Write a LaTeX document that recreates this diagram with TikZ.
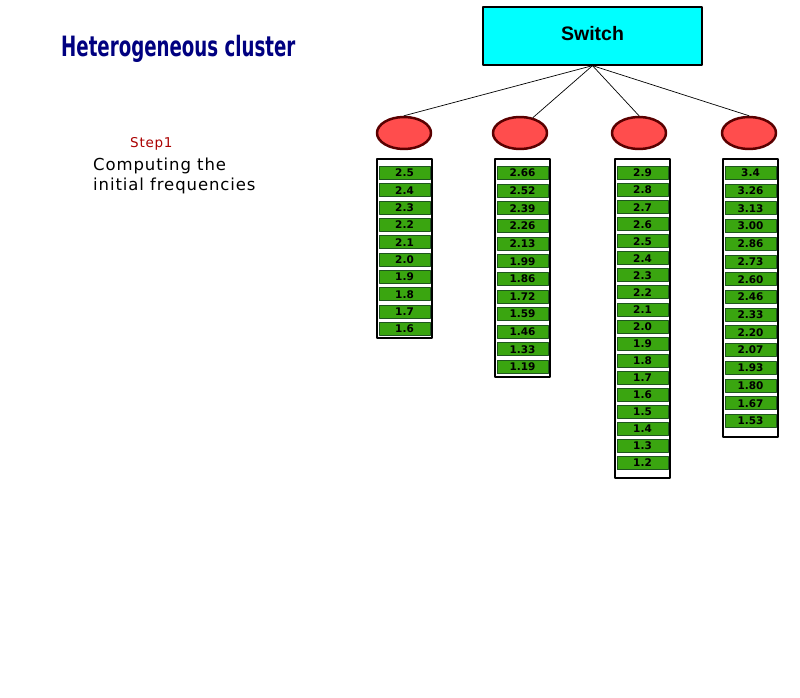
\documentclass[tikz,border=0pt]{standalone}
\usepackage{fontspec}
\setmainfont{DejaVu Sans}
\newfontfamily\titlefont[FakeStretch=0.65]{DejaVu Sans}
\newfontfamily\labelfont[LetterSpace=5.5]{DejaVu Sans}
\newfontfamily\switchfont{Liberation Sans}
\usetikzlibrary{shapes.geometric}
\definecolor{titleblue}{RGB}{0,0,128}
\definecolor{stepred}{RGB}{170,0,0}
\definecolor{switchcyan}{RGB}{0,255,255}
\definecolor{hostred}{RGB}{255,77,77}
\definecolor{hostborder}{RGB}{90,0,0}
\definecolor{freqgreen}{RGB}{58,165,16}
\definecolor{freqborder}{RGB}{30,85,30}
\tikzset{
  host/.style={ellipse, draw=hostborder, line width=2.5, fill=hostred, minimum width=54, minimum height=32},
  freq/.style={draw=freqborder, line width=0.9, fill=freqgreen, minimum width=51, minimum height=13, inner sep=0, font=\bfseries\fontsize{10.5}{10.5}\selectfont},
  column/.style={draw, line width=2.2, fill=white}
}
\begin{document}
\begin{tikzpicture}[x=1pt,y=-1pt, line join=round, line cap=round]
	\useasboundingbox (0,0) rectangle (800,698);
	\node[anchor=base west, inner sep=0, text=titleblue, font=\titlefont\bfseries\fontsize{28}{28}\selectfont] (title) at (61,57) {Heterogeneous cluster};
	\node[anchor=base west, inner sep=0, text=stepred, font=\labelfont\fontsize{13.5}{16}\selectfont] (step) at (130,147) {Step1};
	\node[anchor=base west, inner sep=0, align=left, font=\labelfont\fontsize{16.5}{20}\selectfont] (task) at (93,190) {Computing the\\initial frequencies};
	\node[draw, line width=1.3, fill=switchcyan, minimum width=219, minimum height=58, text depth=6, font=\switchfont\bfseries\fontsize{19.5}{20}\selectfont] (switch) at (592.5,36) {Switch};
	\node[host] (h1) at (404,133) {};
	\node[host] (h2) at (520,133) {};
	\node[host] (h3) at (639,133) {};
	\node[host] (h4) at (749,133) {};
	\draw[line width=0.7] (switch.south) -- (h1.north);
	\draw[line width=0.7] (switch.south) -- (h2.50);
	\draw[line width=0.7] (switch.south) -- (h3.north);
	\draw[line width=0.7] (switch.south) -- (h4.north);
	\foreach \c/\cx/\cb/\dy/\vals in {
		1/404.5/338/17.33/{2.5,2.4,2.3,2.2,2.1,2.0,1.9,1.8,1.7,1.6},
		2/522.5/377/17.64/{2.66,2.52,2.39,2.26,2.13,1.99,1.86,1.72,1.59,1.46,1.33,1.19},
		3/642.5/478/17.06/{2.9,2.8,2.7,2.6,2.5,2.4,2.3,2.2,2.1,2.0,1.9,1.8,1.7,1.6,1.5,1.4,1.3,1.2},
		4/750.5/437/17.71/{3.4,3.26,3.13,3.00,2.86,2.73,2.60,2.46,2.33,2.20,2.07,1.93,1.80,1.67,1.53}}{
		\draw[column] (\cx-27.5,159) rectangle (\cx+27.5,\cb);
		\foreach \v [count=\k from 0] in \vals
		\node[freq] (f\c-\k) at (\cx,173+\k*\dy) {\v};
	}
\end{tikzpicture}
\end{document}
